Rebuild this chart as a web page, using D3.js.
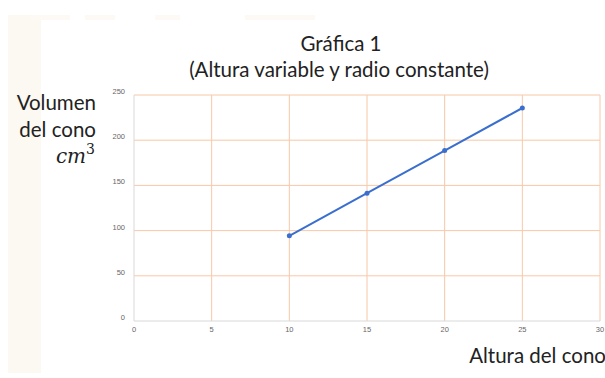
<!DOCTYPE html>
<html>
<head>
<meta charset="utf-8">
<script src="https://cdn.jsdelivr.net/npm/d3@7"></script>
<style>
  body { margin: 0; background: #fff; }
  svg { display: block; }
</style>
</head>
<body>
<svg id="chart"></svg>
<script>
// Chart data: cone with r = 3 cm, height varying
const alturas = [10, 15, 20, 25];
const volumenes = [94.25, 141.37, 188.5, 235.62];
const xTicks = [0, 5, 10, 15, 20, 25, 30];
const yTicks = [0, 50, 100, 150, 200, 250];

const width = 605;
const height = 378;
const margin = { top: 95, right: 5, bottom: 57, left: 134 };

const svg = d3.select("#chart")
    .attr("width", width)
    .attr("height", height);

// faint decorative band on the left side
svg.append("rect")
    .attr("x", 8).attr("y", 15)
    .attr("width", 33).attr("height", 358)
    .attr("fill", "#fcf8f2");
svg.append("g")
    .selectAll("rect")
    .data([[30, 40], [85, 30], [155, 25], [245, 70]])
    .enter().append("rect")
    .attr("x", d => d[0]).attr("y", 15)
    .attr("width", d => d[1]).attr("height", 5)
    .attr("fill", "#fdfaf6");

const x = d3.scaleLinear()
    .domain([0, 30])
    .range([margin.left, width - margin.right]);

const y = d3.scaleLinear()
    .domain([0, 250])
    .range([height - margin.bottom, margin.top]);

// grid
svg.append("g")
    .selectAll("line")
    .data(yTicks.filter(d => d > 0))
    .enter().append("line")
    .attr("x1", x(0)).attr("x2", x(30))
    .attr("y1", d => y(d)).attr("y2", d => y(d))
    .attr("stroke", "#f8c8a8")
    .attr("stroke-width", 1);

svg.append("g")
    .selectAll("line")
    .data(xTicks.filter(d => d > 0))
    .enter().append("line")
    .attr("x1", d => x(d)).attr("x2", d => x(d))
    .attr("y1", y(0)).attr("y2", y(250))
    .attr("stroke", "#f8c8a8")
    .attr("stroke-width", 1);

// axis lines
svg.append("line")
    .attr("x1", x(0)).attr("x2", x(0))
    .attr("y1", y(0)).attr("y2", y(250))
    .attr("stroke", "#d9d9d9");
svg.append("line")
    .attr("x1", x(0)).attr("x2", x(30))
    .attr("y1", y(0)).attr("y2", y(0))
    .attr("stroke", "#d9d9d9");

// tick labels
svg.append("g")
    .selectAll("text")
    .data(yTicks)
    .enter().append("text")
    .attr("x", x(0) - 9)
    .attr("y", d => y(d) - 1)
    .attr("text-anchor", "end")
    .style("font-family", "Arial, 'Liberation Sans', sans-serif")
    .style("font-size", "7.5px")
    .style("fill", "#666")
    .text(d => d);

svg.append("g")
    .selectAll("text")
    .data(xTicks)
    .enter().append("text")
    .attr("x", d => x(d))
    .attr("y", y(0) + 11)
    .attr("text-anchor", "middle")
    .style("font-family", "Arial, 'Liberation Sans', sans-serif")
    .style("font-size", "7.5px")
    .style("fill", "#666")
    .text(d => d);

// series
const points = alturas.map((h, i) => ({ h: h, v: volumenes[i] }));

const line = d3.line()
    .x(d => x(d.h))
    .y(d => y(d.v));

svg.append("path")
    .datum(points)
    .attr("d", line)
    .attr("fill", "none")
    .attr("stroke", "#3a6fcf")
    .attr("stroke-width", 2);

svg.append("g")
    .selectAll("circle")
    .data(points)
    .enter().append("circle")
    .attr("cx", d => x(d.h))
    .attr("cy", d => y(d.v))
    .attr("r", 2.5)
    .attr("fill", "#3a6fcf");

// titles
const font = "Lato, 'Open Sans', sans-serif";

function label(tx, ty, anchor, txt) {
    svg.append("text")
        .attr("x", tx).attr("y", ty)
        .attr("text-anchor", anchor)
        .style("font-family", font)
        .style("font-size", "20.5px")
        .style("fill", "#222")
        .text(txt);
}

label(341, 51, "middle", "Gráfica 1");
label(339, 77, "middle", "(Altura variable y radio constante)");
label(96, 110, "end", "Volumen");
label(96, 137, "end", "del cono");
label(606, 363, "end", "Altura del cono");

const cm = svg.append("text")
    .attr("x", 95).attr("y", 163)
    .attr("text-anchor", "end")
    .style("font-family", "'DejaVu Serif', 'Liberation Serif', serif")
    .style("font-style", "italic")
    .style("font-size", "20px")
    .style("fill", "#222");
cm.append("tspan").text("cm");
cm.append("tspan")
    .attr("dy", -9)
    .style("font-size", "14px")
    .style("font-style", "normal")
    .text("3");
</script>
</body>
</html>
